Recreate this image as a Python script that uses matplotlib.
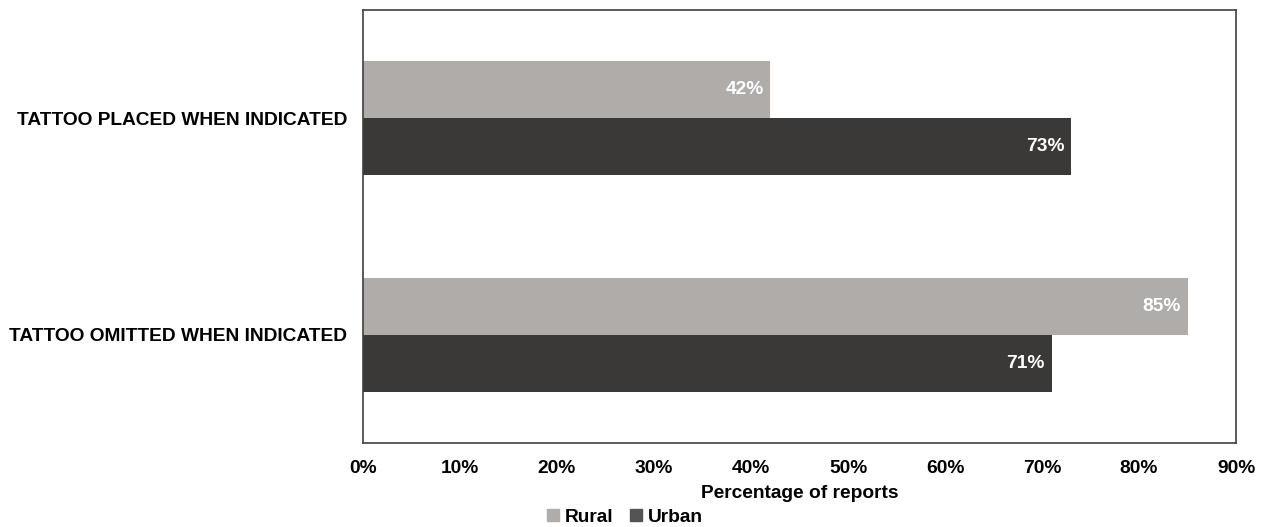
import numpy as np
import matplotlib.pyplot as plt
from matplotlib.patches import Patch

categories = ['TATTOO OMITTED WHEN INDICATED', 'TATTOO PLACED WHEN INDICATED']
rural = [85, 42]
urban = [71, 73]
xticks = [0, 10, 20, 30, 40, 50, 60, 70, 80, 90]

rural_color = '#afacaa'
urban_color = '#3b3938'

plt.rcParams['font.family'] = ['Liberation Sans', 'DejaVu Sans']
plt.rcParams['font.weight'] = 'bold'
fs = 13.8

fig = plt.figure(figsize=(12.64, 5.27), dpi=100)
ax = fig.add_axes([363 / 1264, 1 - 443 / 527, (1236 - 363) / 1264, (443 - 10) / 527])

y = np.arange(len(categories))
h = 0.263
ax.barh(y + h / 2, rural, height=h, color=rural_color)
ax.barh(y - h / 2, urban, height=h, color=urban_color)

for yi, v in zip(y + h / 2, rural):
    ax.text(v - 0.7, yi, f'{v}%', ha='right', va='center', color='white',
            fontsize=fs, fontweight='bold')
for yi, v in zip(y - h / 2, urban):
    ax.text(v - 0.7, yi, f'{v}%', ha='right', va='center', color='white',
            fontsize=fs, fontweight='bold')

ax.set_xlim(0, 90)
ax.set_ylim(-0.5, 1.5)
ax.set_xticks(xticks)
ax.set_xticklabels([f'{t}%' for t in xticks], fontsize=fs, fontweight='bold')
ax.set_yticks(y)
ax.set_yticklabels(categories, fontsize=fs, fontweight='bold')
ax.tick_params(axis='x', length=0, pad=12)
ax.tick_params(axis='y', length=0, pad=11.5)
for s in ax.spines.values():
    s.set_color('#404040')
    s.set_linewidth(1.2)

ax.set_xlabel('Percentage of reports', fontsize=fs, fontweight='bold', labelpad=6)

handles = [Patch(color=rural_color, label='Rural'), Patch(color='#555353', label='Urban')]
fig.legend(handles=handles, loc='center', bbox_to_anchor=(625 / 1264, 1 - 517 / 527),
           ncol=2, frameon=False, fontsize=fs, handlelength=0.6, handleheight=0.6,
           handletextpad=0.3, columnspacing=0.9, borderpad=0)

fig.savefig('out.png', dpi=100)
